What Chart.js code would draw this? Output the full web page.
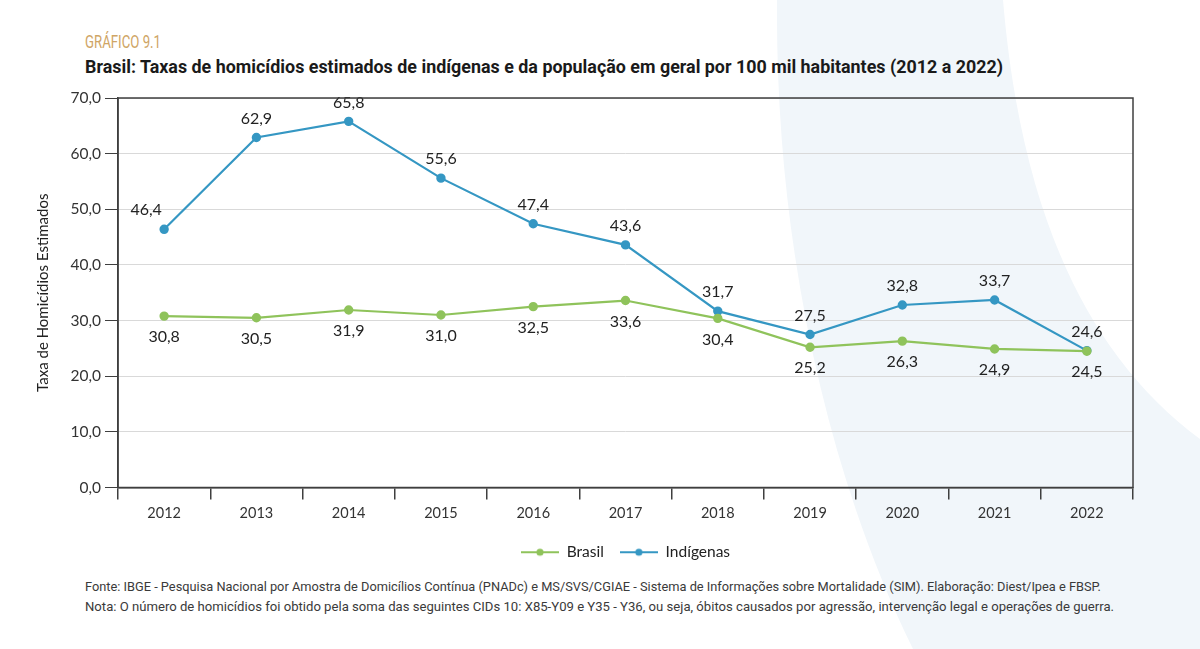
<!DOCTYPE html>
<html lang="pt-BR">
<head>
<meta charset="utf-8">
<script src="https://cdn.jsdelivr.net/npm/chart.js@4.4.1/dist/chart.umd.min.js"></script>
<style>
  html, body { margin: 0; padding: 0; background: #ffffff; }
  #page { position: relative; width: 1200px; height: 649px; overflow: hidden; background: #ffffff; }
  #bg { position: absolute; left: 0; top: 0; z-index: 0; }
  .txt { position: absolute; left: 85px; white-space: nowrap; transform-origin: 0 50%; z-index: 2; line-height: 1; }
  #kicker { top: 32px; font-family: Roboto, sans-serif; font-size: 19px; color: #cfa565; }
  #title { top: 59px; font-family: Roboto, sans-serif; font-weight: bold; font-size: 17.5px; color: #1a1a1a; }
  #src1 { top: 580px; font-family: Roboto, sans-serif; font-size: 13.5px; color: #3a3a3a; }
  #src2 { top: 600px; font-family: Roboto, sans-serif; font-size: 13.5px; color: #3a3a3a; }
  #wrap { position: absolute; left: 0; top: 80px; width: 1200px; height: 490px; z-index: 1; }
</style>
</head>
<body>
<div id="page">
  <svg id="bg" width="1200" height="649" viewBox="0 0 1200 649">
    <path d="M777,0 L1003,0 C1020,200 1080,350 1200,439 L1200,649 L913,649 C830,480 775,250 777,0 Z" fill="#f1f6fa"/>
  </svg>
  <div id="kicker" class="txt" data-w="76">GRÁFICO 9.1</div>
  <div id="title" class="txt" data-w="918">Brasil: Taxas de homicídios estimados de indígenas e da população em geral por 100 mil habitantes (2012 a 2022)</div>
  <div id="wrap"><canvas id="chart"></canvas></div>
  <div id="src1" class="txt" data-w="1016">Fonte: IBGE - Pesquisa Nacional por Amostra de Domicílios Contínua (PNADc) e MS/SVS/CGIAE - Sistema de Informações sobre Mortalidade (SIM). Elaboração: Diest/Ipea e FBSP.</div>
  <div id="src2" class="txt" data-w="1029">Nota: O número de homicídios foi obtido pela soma das seguintes CIDs 10: X85-Y09 e Y35 - Y36, ou seja, óbitos causados por agressão, intervenção legal e operações de guerra.</div>
</div>
<script>
// ---- data ----
const years = ['2012','2013','2014','2015','2016','2017','2018','2019','2020','2021','2022'];
const brasil = [30.8, 30.5, 31.9, 31.0, 32.5, 33.6, 30.4, 25.2, 26.3, 24.9, 24.5];
const indigenas = [46.4, 62.9, 65.8, 55.6, 47.4, 43.6, 31.7, 27.5, 32.8, 33.7, 24.6];
const seriesNames = ['Brasil', 'Indígenas'];
const yTicks = [0, 10, 20, 30, 40, 50, 60, 70];
const yTitle = 'Taxa de Homicídios Estimados';

const GREEN = '#8fc35b';
const BLUE = '#3597c3';
const fmt = v => v.toFixed(1).replace('.', ',');

// condense html texts to their measured widths
document.querySelectorAll('.txt').forEach(el => {
  const w = el.getBoundingClientRect().width;
  const target = +el.dataset.w;
  el.style.transform = 'scaleX(' + (target / w) + ')';
});

function legendIcon(color) {
  const c = document.createElement('canvas');
  c.width = 38; c.height = 10;
  const g = c.getContext('2d');
  g.strokeStyle = color; g.lineWidth = 2.2;
  g.beginPath(); g.moveTo(0, 5); g.lineTo(38, 5); g.stroke();
  g.fillStyle = color;
  g.beginPath(); g.arc(19, 5, 3.6, 0, Math.PI * 2); g.fill();
  return c;
}

const frame = {
  id: 'frame',
  afterDraw(chart) {
    const {ctx, chartArea: a} = chart;
    ctx.save();
    ctx.strokeStyle = '#3f3f3f';
    ctx.lineWidth = 1.5;
    ctx.strokeRect(a.left, a.top, a.right - a.left, a.bottom - a.top);
    ctx.restore();
  }
};

// centre the legend under the plot area rather than the whole canvas
const legendUnderPlot = {
  id: 'legendUnderPlot',
  afterLayout(chart) {
    if (chart.legend) {
      chart.legend.left = chart.chartArea.left;
      chart.legend.right = chart.chartArea.right;
    }
  }
};

const valueLabels = {
  id: 'valueLabels',
  afterDatasetsDraw(chart) {
    const ctx = chart.ctx;
    ctx.save();
    ctx.font = '16px Lato, sans-serif';
    ctx.fillStyle = '#222222';
    ctx.textAlign = 'center';
    ctx.textBaseline = 'middle';
    chart.data.datasets.forEach((ds, i) => {
      const meta = chart.getDatasetMeta(i);
      const above = ds.label === 'Indígenas';
      meta.data.forEach((pt, j) => {
        // first label sits up-left of its point so it clears the rising line
        const dx = (above && j === 0) ? -18 : 0;
        const dy = above ? -19 : 21;
        ctx.fillText(fmt(ds.data[j]), pt.x + dx, pt.y + dy);
      });
    });
    ctx.restore();
  }
};

new Chart(document.getElementById('chart'), {
  type: 'line',
  data: {
    labels: years,
    datasets: [
      { label: seriesNames[0], data: brasil, borderColor: GREEN, backgroundColor: GREEN,
        pointBackgroundColor: GREEN, pointBorderColor: GREEN, borderWidth: 2.2, pointRadius: 3.6, pointStyle: 'circle', tension: 0 },
      { label: seriesNames[1], data: indigenas, borderColor: BLUE, backgroundColor: BLUE,
        pointBackgroundColor: BLUE, pointBorderColor: BLUE, borderWidth: 2.2, pointRadius: 3.6, pointStyle: 'circle', tension: 0 }
    ]
  },
  options: {
    responsive: true,
    maintainAspectRatio: false,
    animation: false,
    layout: { padding: { left: 34, right: 67, top: 18, bottom: 0 } },
    plugins: {
      tooltip: { enabled: false },
      legend: {
        position: 'bottom',
        labels: {
          usePointStyle: true,
          pointStyleWidth: 38,
          padding: 16,
          color: '#222222',
          font: { family: 'Lato, sans-serif', size: 15.5 },
          generateLabels(chart) {
            return chart.data.datasets.map((ds, i) => ({
              text: ds.label,
              fillStyle: ds.borderColor,
              strokeStyle: ds.borderColor,
              fontColor: '#222222',
              lineWidth: 0,
              pointStyle: legendIcon(ds.borderColor),
              datasetIndex: i,
              hidden: false
            }));
          }
        }
      }
    },
    scales: {
      x: {
        offset: true,
        grid: { offset: true, drawOnChartArea: false, drawTicks: true, tickLength: 12, color: '#3f3f3f', lineWidth: 1.5 },
        border: { color: '#3f3f3f', width: 1.5 },
        ticks: { color: '#333333', padding: 5, font: { family: 'Lato, sans-serif', size: 14.5 } },
        afterFit(s) { s.height = 41; }
      },
      y: {
        min: 0, max: 70,
        afterBuildTicks(s) { s.ticks = yTicks.map(v => ({ value: v })); },
        grid: { color: '#d9d9d9', lineWidth: 1, tickColor: '#3f3f3f', tickLength: 13, drawTicks: true },
        border: { color: '#3f3f3f', width: 1.5 },
        ticks: { color: '#333333', padding: 4, font: { family: 'Lato, sans-serif', size: 15.5 }, callback: v => fmt(v) },
        title: { display: true, text: yTitle, color: '#222222', padding: { top: 0, bottom: 0 }, font: { family: 'Lato, sans-serif', size: 15 } },
        afterFit(s) { s.width = 84; }
      }
    }
  },
  plugins: [legendUnderPlot, valueLabels, frame]
});
</script>
</body>
</html>
